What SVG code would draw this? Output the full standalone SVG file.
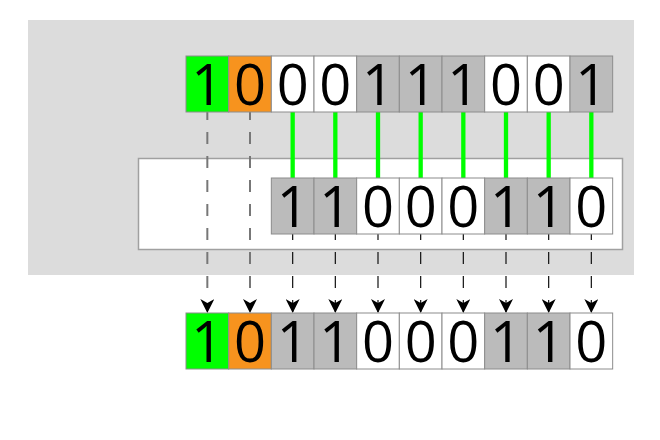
<svg xmlns="http://www.w3.org/2000/svg" width="660" height="440" viewBox="0 0 660 440">
<style>
.bit{font-family:"Open Sans","Noto Sans",sans-serif;font-size:56px;fill:#000;text-anchor:middle}
.c{stroke:#8c8c8c;stroke-width:1}
.g{fill:#00ff00}.o{fill:#f7931e}.k{fill:#bbbbbb}.w{fill:#ffffff}
.gl{stroke:#00ff00;stroke-width:4.3}
.gd{stroke:#777;stroke-width:2;stroke-dasharray:12 12;stroke-dashoffset:4;fill:none}
.kd{stroke:#111;stroke-width:1.2;stroke-dasharray:12 12;stroke-dashoffset:6;fill:none}
</style>
<defs>
<marker id="ah" viewBox="0 0 14 14" refX="14" refY="7" markerWidth="14" markerHeight="14" markerUnits="userSpaceOnUse" orient="auto">
<path d="M0,0 L14,7 L0,14 L4,7 Z" fill="#000"/>
</marker>
</defs>
<rect x="28" y="20" width="606" height="255" fill="#dcdcdc"/>
<rect id="shiftbox" x="138.5" y="158.5" width="484" height="91" fill="#fff" stroke="#a0a0a0" stroke-width="1.5"/>
<g id="connectors">
<line class="gl" x1="292.67" y1="112" x2="292.67" y2="178"/>
<line class="gl" x1="335.33" y1="112" x2="335.33" y2="178"/>
<line class="gl" x1="378" y1="112" x2="378" y2="178"/>
<line class="gl" x1="420.67" y1="112" x2="420.67" y2="178"/>
<line class="gl" x1="463.33" y1="112" x2="463.33" y2="178"/>
<line class="gl" x1="506" y1="112" x2="506" y2="178"/>
<line class="gl" x1="548.67" y1="112" x2="548.67" y2="178"/>
<line class="gl" x1="591.33" y1="112" x2="591.33" y2="178"/>
<line class="gd" x1="207.33" y1="112" x2="207.33" y2="300"/>
<line class="gd" x1="250" y1="112" x2="250" y2="300"/>
<path d="M207.33,299 L207.33,313" stroke="none" marker-end="url(#ah)"/>
<path d="M250,299 L250,313" stroke="none" marker-end="url(#ah)"/>
<line class="kd" x1="292.67" y1="234" x2="292.67" y2="313" marker-end="url(#ah)"/>
<line class="kd" x1="335.33" y1="234" x2="335.33" y2="313" marker-end="url(#ah)"/>
<line class="kd" x1="378" y1="234" x2="378" y2="313" marker-end="url(#ah)"/>
<line class="kd" x1="420.67" y1="234" x2="420.67" y2="313" marker-end="url(#ah)"/>
<line class="kd" x1="463.33" y1="234" x2="463.33" y2="313" marker-end="url(#ah)"/>
<line class="kd" x1="506" y1="234" x2="506" y2="313" marker-end="url(#ah)"/>
<line class="kd" x1="548.67" y1="234" x2="548.67" y2="313" marker-end="url(#ah)"/>
<line class="kd" x1="591.33" y1="234" x2="591.33" y2="313" marker-end="url(#ah)"/>
</g>
<g id="top">
<rect class="c g" x="186" y="56" width="42.67" height="56"/><text class="bit" x="207.33" y="105">1</text>
<rect class="c o" x="228.67" y="56" width="42.67" height="56"/><text class="bit" x="250" y="105">0</text>
<rect class="c w" x="271.33" y="56" width="42.67" height="56"/><text class="bit" x="292.67" y="105">0</text>
<rect class="c w" x="314" y="56" width="42.67" height="56"/><text class="bit" x="335.33" y="105">0</text>
<rect class="c k" x="356.67" y="56" width="42.67" height="56"/><text class="bit" x="378" y="105">1</text>
<rect class="c k" x="399.33" y="56" width="42.67" height="56"/><text class="bit" x="420.67" y="105">1</text>
<rect class="c k" x="442" y="56" width="42.67" height="56"/><text class="bit" x="463.33" y="105">1</text>
<rect class="c w" x="484.67" y="56" width="42.67" height="56"/><text class="bit" x="506" y="105">0</text>
<rect class="c w" x="527.33" y="56" width="42.67" height="56"/><text class="bit" x="548.67" y="105">0</text>
<rect class="c k" x="570" y="56" width="42.67" height="56"/><text class="bit" x="591.33" y="105">1</text>
</g>
<g id="middle">
<rect class="c k" x="271.33" y="178" width="42.67" height="56"/><text class="bit" x="292.67" y="227">1</text>
<rect class="c k" x="314" y="178" width="42.67" height="56"/><text class="bit" x="335.33" y="227">1</text>
<rect class="c w" x="356.67" y="178" width="42.67" height="56"/><text class="bit" x="378" y="227">0</text>
<rect class="c w" x="399.33" y="178" width="42.67" height="56"/><text class="bit" x="420.67" y="227">0</text>
<rect class="c w" x="442" y="178" width="42.67" height="56"/><text class="bit" x="463.33" y="227">0</text>
<rect class="c k" x="484.67" y="178" width="42.67" height="56"/><text class="bit" x="506" y="227">1</text>
<rect class="c k" x="527.33" y="178" width="42.67" height="56"/><text class="bit" x="548.67" y="227">1</text>
<rect class="c w" x="570" y="178" width="42.67" height="56"/><text class="bit" x="591.33" y="227">0</text>
</g>
<g id="bottom">
<rect class="c g" x="186" y="313" width="42.67" height="56"/><text class="bit" x="207.33" y="362">1</text>
<rect class="c o" x="228.67" y="313" width="42.67" height="56"/><text class="bit" x="250" y="362">0</text>
<rect class="c k" x="271.33" y="313" width="42.67" height="56"/><text class="bit" x="292.67" y="362">1</text>
<rect class="c k" x="314" y="313" width="42.67" height="56"/><text class="bit" x="335.33" y="362">1</text>
<rect class="c w" x="356.67" y="313" width="42.67" height="56"/><text class="bit" x="378" y="362">0</text>
<rect class="c w" x="399.33" y="313" width="42.67" height="56"/><text class="bit" x="420.67" y="362">0</text>
<rect class="c w" x="442" y="313" width="42.67" height="56"/><text class="bit" x="463.33" y="362">0</text>
<rect class="c k" x="484.67" y="313" width="42.67" height="56"/><text class="bit" x="506" y="362">1</text>
<rect class="c k" x="527.33" y="313" width="42.67" height="56"/><text class="bit" x="548.67" y="362">1</text>
<rect class="c w" x="570" y="313" width="42.67" height="56"/><text class="bit" x="591.33" y="362">0</text>
</g>
</svg>
